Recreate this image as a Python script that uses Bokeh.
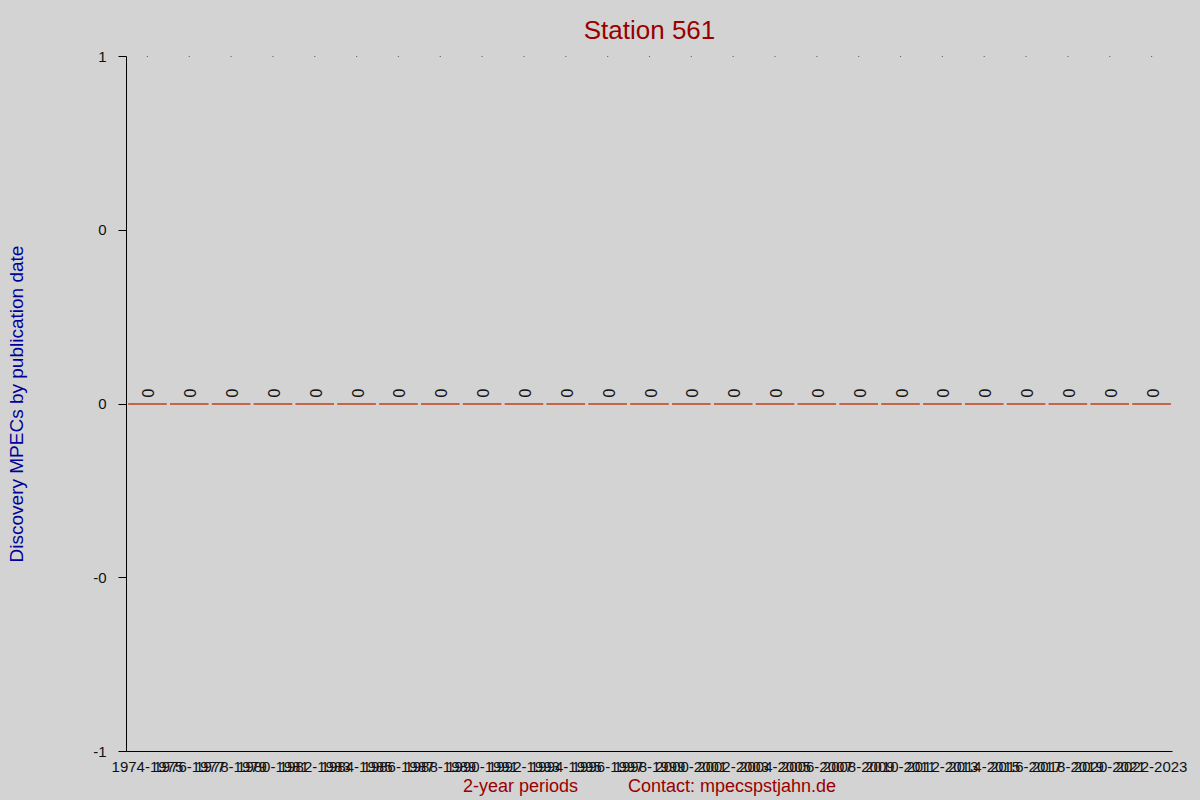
from math import pi
from bokeh.plotting import figure
from bokeh.models import FactorRange, Range1d, FixedTicker, ColumnDataSource
from bokeh.embed import file_html
from bokeh.resources import INLINE
from bokeh.core.properties import value

periods = ["1974-1975", "1976-1977", "1978-1979", "1980-1981", "1982-1983",
           "1984-1985", "1986-1987", "1988-1989", "1990-1991", "1992-1993",
           "1994-1995", "1996-1997", "1998-1999", "2000-2001", "2002-2003",
           "2004-2005", "2006-2007", "2008-2009", "2010-2011", "2012-2013",
           "2014-2015", "2016-2017", "2018-2019", "2020-2021", "2022-2023"]
mpecs = [0, 0, 0, 0, 0, 0, 0, 0, 0, 0, 0, 0, 0, 0, 0,
         0, 0, 0, 0, 0, 0, 0, 0, 0, 0]
y_ticks = [-1, -0.5, 0, 0.5, 1]
y_tick_labels = ["-1", "-0", "0", "0", "1"]
y_min, y_max = -1, 1

FONT = "Liberation Sans"
BG = "#d3d3d3"

src = ColumnDataSource(dict(
    period=periods,
    mpecs=mpecs,
    label=[str(v) for v in mpecs],
    top=[y_max] * len(periods),
))

p = figure(width=1200, height=800,
           x_range=FactorRange(*periods, range_padding=0),
           y_range=Range1d(y_min, y_max),
           output_backend="svg", toolbar_location=None,
           min_border_left=126, min_border_right=28,
           min_border_top=56, min_border_bottom=49)

p.background_fill_color = BG
p.border_fill_color = BG
p.outline_line_color = None
p.grid.visible = False

p.title.text = "Station 561"
p.title.align = "center"
p.title.standoff = 24
p.title.text_font = FONT
p.title.text_font_size = "26px"
p.title.text_font_style = "normal"
p.title.text_color = "#990000"

p.vbar(x="period", top="mpecs", bottom=0, width=0.92, source=src,
       fill_color="#c0401a", line_color="#c0401a", line_width=1)

p.text(x="period", y="mpecs", text="label", source=src, angle=pi / 2,
       text_align="center", text_baseline="middle", y_offset=-11, x_offset=1,
       text_font=value(FONT), text_font_size="16px", text_color="#111111")

p.scatter(x="period", y="top", source=src, marker="square", size=1.2,
          fill_color="#000000", line_color=None)

xa = p.xaxis[0]
xa.axis_line_color = "#000000"
xa.major_tick_line_color = None
xa.minor_tick_line_color = None
xa.major_label_text_font = FONT
xa.major_label_text_font_size = "15px"
xa.major_label_text_color = "#111111"
xa.major_label_standoff = 4
xa.axis_label = "2-year periods" + "\u00a0" * 10 + "Contact: mpecspstjahn.de"
xa.axis_label_text_font = FONT
xa.axis_label_text_font_size = "18px"
xa.axis_label_text_font_style = "normal"
xa.axis_label_text_color = "#990000"
xa.axis_label_standoff = 1

ya = p.yaxis[0]
ya.ticker = FixedTicker(ticks=y_ticks)
ya.major_label_overrides = {t: l for t, l in zip(y_ticks, y_tick_labels)}
ya.axis_line_color = "#000000"
ya.major_tick_line_color = "#000000"
ya.major_tick_out = 8
ya.major_tick_in = 0
ya.minor_tick_line_color = None
ya.major_label_text_font = FONT
ya.major_label_text_font_size = "15px"
ya.major_label_text_color = "#111111"
ya.major_label_standoff = 12
ya.axis_label = "Discovery MPECs by publication date"
ya.axis_label_text_font = FONT
ya.axis_label_text_font_size = "19px"
ya.axis_label_text_font_style = "normal"
ya.axis_label_text_color = "#000099"
ya.axis_label_standoff = 63

html = file_html(p, INLINE)
html = html.replace("<body>", '<body style="background:#d3d3d3">')
open("out.html", "w").write(html)
